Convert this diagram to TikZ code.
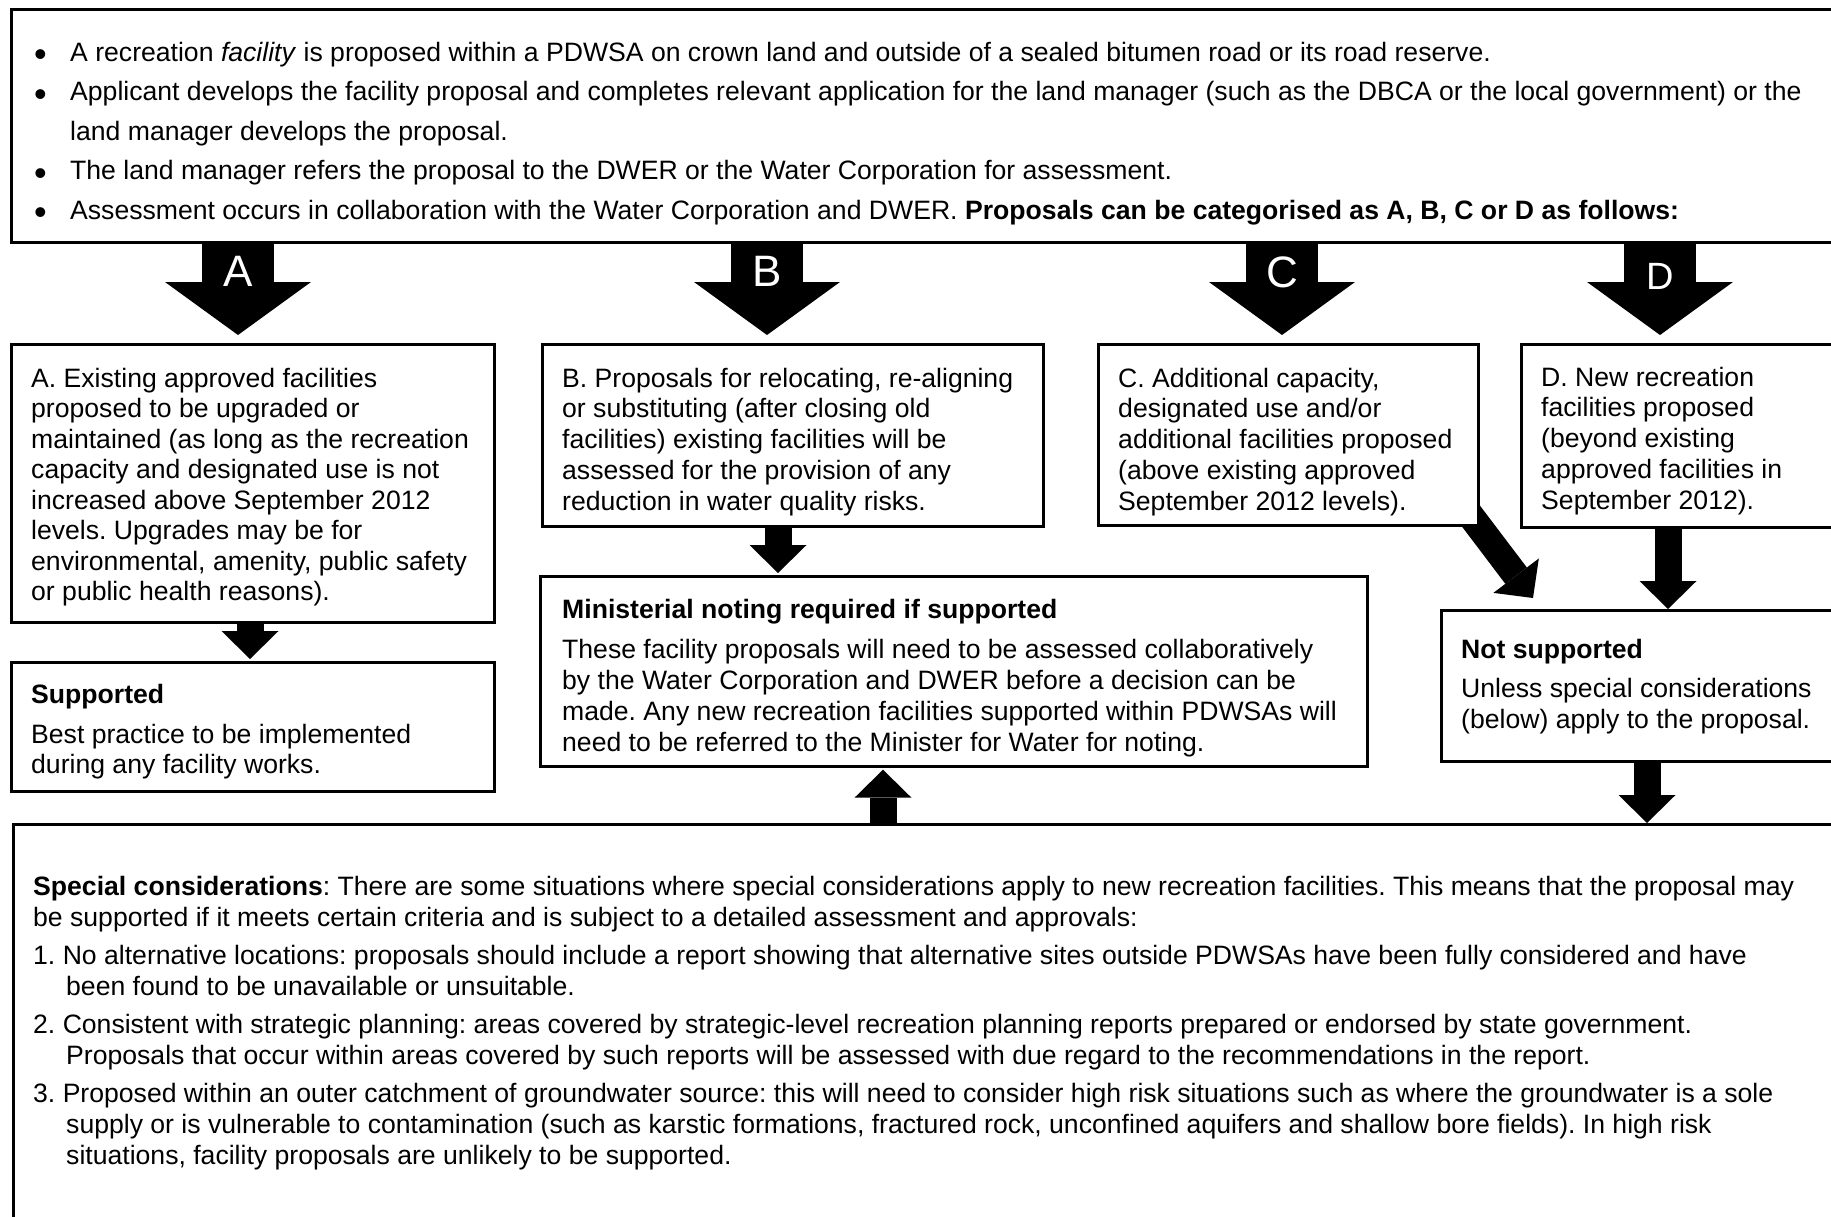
\documentclass[tikz,border=0pt]{standalone}
\usepackage{fontspec}
\setmainfont{Liberation Sans}
\usetikzlibrary{arrows.meta,calc}
\pgfdeclarelayer{bg}
\pgfsetlayers{bg,main}
\newcommand{\lnstrut}{\rule{0pt}{30pt}}
\newcommand{\bul}{\makebox[36pt][l]{\raisebox{-5.5pt}{\fontsize{36}{36}\selectfont •}}}
\begin{document}
\frenchspacing
\begin{tikzpicture}[x=1pt,y=-1pt,
  box/.style={draw=black, line width=2.7pt, fill=white, rectangle, inner sep=0pt, anchor=north west},
  txt/.style={anchor=north west, inner sep=0pt, align=left, font={\fontsize{26.6}{#1}\selectfont\lineskiplimit=-100pt\frenchspacing}},
  txt/.default=30.5,
  bigarrow/.style={line width=72pt, -{Triangle[width=146pt,length=53pt,line width=0pt]}, shorten >=8pt},
  smallarrow/.style={line width=27pt, -{Triangle[width=57pt,length=28pt,line width=0pt]}},
  letter/.style={text=white, font=\fontsize{44}{44}\selectfont, inner sep=0pt, anchor=center}]
\useasboundingbox (0,0) rectangle (1831,1216);
\clip (0,0) rectangle (1831,1216);

% boxes
\node[box, minimum width=1850pt, minimum height=233pt] (top) at (10,8) {};
\node[box, minimum width=483pt, minimum height=278pt] (bA) at (10,343) {};
\node[box, minimum width=501pt, minimum height=182pt] (bB) at (541,343) {};
\node[box, minimum width=380pt, minimum height=181pt] (bC) at (1097,343) {};
\node[box, minimum width=340pt, minimum height=183pt] (bD) at (1520,343) {};
\node[box, minimum width=483pt, minimum height=129pt] (sup) at (10,661) {};
\node[box, minimum width=827pt, minimum height=190pt] (mn) at (539,575) {};
\node[box, minimum width=420pt, minimum height=151pt] (ns) at (1440,609) {};
\node[box, minimum width=1850pt, minimum height=420pt] (sp) at (12,823) {};

% x positions of connectors
\coordinate (xa) at (238,0);
\coordinate (xb) at (767,0);
\coordinate (xc) at (1282,0);
\coordinate (xd) at (1660,0);
\coordinate (xas) at (250,0);
\coordinate (xbm) at (778,0);
\coordinate (xdn) at (1668,0);
\coordinate (xns) at (1647,0);
\coordinate (xup) at (883,0);
\coordinate (cs) at (1430,462);
\coordinate (ct) at (1533,598);

\begin{pgfonlayer}{bg}
\draw[bigarrow] (top.south -| xa) -- (bA.north -| xa);
\draw[bigarrow] (top.south -| xb) -- (bB.north -| xb);
\draw[bigarrow] (top.south -| xc) -- (bC.north -| xc);
\draw[bigarrow] (top.south -| xd) -- (bD.north -| xd);
\draw[smallarrow, shorten >=2pt] (bA.south -| xas) -- (sup.north -| xas);
\draw[smallarrow, shorten >=2pt] (bB.south -| xbm) -- (mn.north -| xbm);
\draw[smallarrow] (bD.south -| xdn) -- (ns.north -| xdn);
\draw[smallarrow] (ns.south -| xns) -- (sp.north -| xns);
\draw[smallarrow, shorten >=2pt] (sp.north -| xup) -- (mn.south -| xup);
\draw[smallarrow] (cs) -- (ct);
\end{pgfonlayer}

% letters on arrows
\node[letter] (lA) at (238,271) {A};
\node[letter] (lB) at (767,271) {B};
\node[letter] (lC) at (1282,272) {C};
\node[letter, font=\fontsize{38}{38}\selectfont] (lD) at (1660,276) {D};

% texts
\node[txt=39.5] (ttop) at (34,31) {%
\lnstrut\bul A recreation \textit{facility} is proposed within a PDWSA on crown land and outside of a sealed bitumen road or its road reserve.\\
\bul Applicant develops the facility proposal and completes relevant application for the land manager (such as the DBCA or the local government) or the\\
\hspace*{36pt}land manager develops the proposal.\\
\bul The land manager refers the proposal to the DWER or the Water Corporation for assessment.\\
\bul Assessment occurs in collaboration with the Water Corporation and DWER. \textbf{Proposals can be categorised as A, B, C or D as follows:}};

\node[txt=30.5] (tA) at (31,357) {%
\lnstrut A. Existing approved facilities\\
proposed to be upgraded or\\
maintained (as long as the recreation\\
capacity and designated use is not\\
increased above September 2012\\
levels. Upgrades may be for\\
environmental, amenity, public safety\\
or public health reasons).};

\node[txt=30.7] (tB) at (562,357) {%
\lnstrut B. Proposals for relocating, re-aligning\\
or substituting (after closing old\\
facilities) existing facilities will be\\
assessed for the provision of any\\
reduction in water quality risks.};

\node[txt=30.7] (tC) at (1118,357) {%
\lnstrut C. Additional capacity,\\
designated use and/or\\
additional facilities proposed\\
(above existing approved\\
September 2012 levels).};

\node[txt=30.7] (tD) at (1541,356) {%
\lnstrut D. New recreation\\
facilities proposed\\
(beyond existing\\
approved facilities in\\
September 2012).};

\node[txt=30.5] (tS) at (31,673) {%
\lnstrut\textbf{Supported}\\[9.5pt]
Best practice to be implemented\\
during any facility works.};

\node[txt=31] (tM) at (562,588) {%
\lnstrut\textbf{Ministerial noting required if supported}\\[9pt]
These facility proposals will need to be assessed collaboratively\\
by the Water Corporation and DWER before a decision can be\\
made. Any new recreation facilities supported within PDWSAs will\\
need to be referred to the Minister for Water for noting.};

\node[txt=31] (tN) at (1461,628) {%
\lnstrut\textbf{Not supported}\\[8pt]
Unless special considerations\\
(below) apply to the proposal.};

\node[txt=31] (tP) at (33,865) {%
\lnstrut\textbf{Special considerations}: There are some situations where special considerations apply to new recreation facilities. This means that the proposal may\\
be supported if it meets certain criteria and is subject to a detailed assessment and approvals:\\[7pt]
1. No alternative locations: proposals should include a report showing that alternative sites outside PDWSAs have been fully considered and have\\
\hspace*{33pt}been found to be unavailable or unsuitable.\\[7pt]
2. Consistent with strategic planning: areas covered by strategic-level recreation planning reports prepared or endorsed by state government.\\
\hspace*{33pt}Proposals that occur within areas covered by such reports will be assessed with due regard to the recommendations in the report.\\[7pt]
3. Proposed within an outer catchment of groundwater source: this will need to consider high risk situations such as where the groundwater is a sole\\
\hspace*{33pt}supply or is vulnerable to contamination (such as karstic formations, fractured rock, unconfined aquifers and shallow bore fields). In high risk\\
\hspace*{33pt}situations, facility proposals are unlikely to be supported.};
\end{tikzpicture}
\end{document}
